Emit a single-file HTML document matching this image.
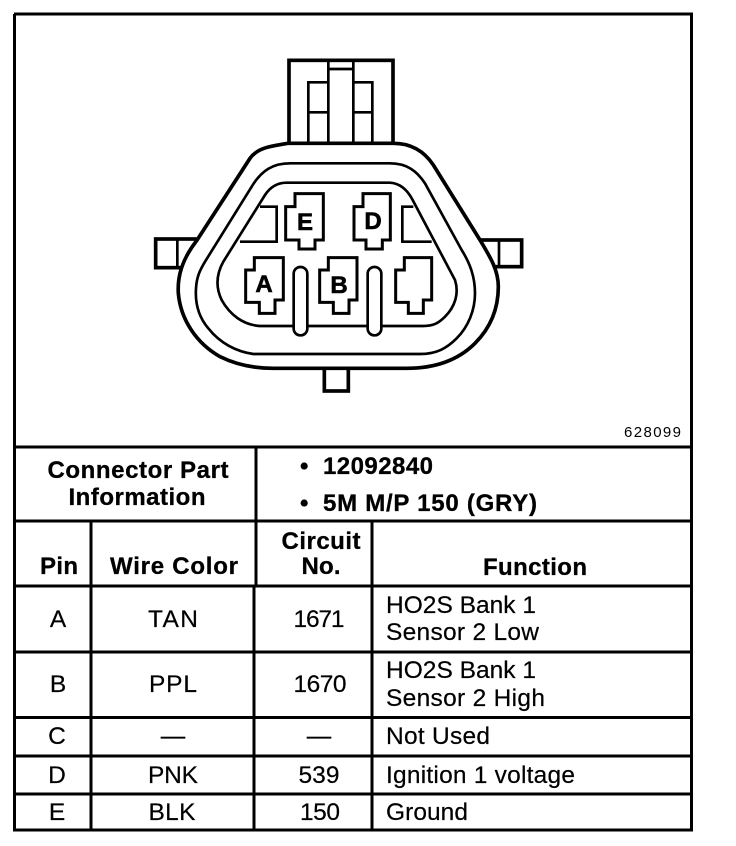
<!DOCTYPE html>
<html><head><meta charset="utf-8"><style>
html,body{margin:0;padding:0;background:#fff}
svg{display:block}
text{font-family:"Liberation Sans",sans-serif;fill:#000}
.b{font-weight:bold;font-size:24px;stroke:#000;stroke-width:.3px}
.r{font-size:24.5px;stroke:#000;stroke-width:.2px}
.m{text-anchor:middle}
</style></head><body>
<svg width="736" height="846" viewBox="0 0 736 846" xmlns="http://www.w3.org/2000/svg">
<rect width="736" height="846" fill="#fff"/>
<g transform="translate(140,50) scale(.33333)" fill="none" stroke="#000" stroke-linejoin="miter">
<g stroke-width="11" fill="#fff">
<rect x="47" y="567" width="125" height="86"/>
<rect x="1025" y="570" width="120" height="80"/>
<rect x="553" y="950" width="72" height="73"/>
<rect x="447" y="31" width="312" height="260"/>
</g>
<path d="M112 567V653M1077 570V650" stroke-width="8"/>
<path d="M443 280C400 288 355 290 330 325L170 572C125 630 112 680 115 730C122 810 170 880 240 920C290 945 340 955 400 955H800C880 955 950 935 1005 880C1055 830 1075 770 1075 710C1075 660 1050 620 1020 570L880 345C850 300 810 280 760 280Z" stroke-width="11" fill="#fff"/>
<path d="M505 280V97H562M565 280V30M640 30V280M697 280V97H640M508 187H562M643 187H697M565 57H640" stroke-width="8"/>
<path d="M450 340H750C800 340 830 362 855 400L965 600C990 640 1005 680 1005 730C1005 780 985 830 950 865C920 895 890 912 840 912H340C290 905 240 880 205 835C175 800 165 760 168 715C170 680 180 660 195 635L335 410C365 360 400 340 450 340Z" stroke-width="8"/>
<path d="M440 398H750C785 400 805 425 818 450L945 690C958 730 945 770 915 800C895 820 880 828 850 828H360C310 825 270 795 245 750C228 715 228 675 250 635L375 435C390 412 410 398 440 398Z" stroke-width="8"/>
<path d="M360 470H410V575H300M820 470H787V575H875" stroke-width="8"/>
<g fill="#fff" stroke-width="8">
<rect x="461" y="651" width="41" height="205" rx="20"/>
<rect x="683" y="651" width="41" height="205" rx="20"/>
</g>
<g stroke-width="9" fill="#fff">
<path d="M465 431H550V570H525V597H477V570H437V470H465Z"/>
<path d="M669 431H751V570H727V597H678V570H642V470H669Z"/>
<path d="M343 623H430V750H405V790H358V757H317V660H343Z"/>
<path d="M565 623H651V750H627V790H580V757H539V660H565Z"/>
<path d="M793 623H875V750H850V790H805V757H767V660H793Z"/>
</g>
</g>
<g font-weight="bold" font-size="24" text-anchor="middle">
<text x="305" y="230" style="stroke:#000;stroke-width:.6px">E</text>
<text x="373" y="229" style="stroke:#000;stroke-width:.6px">D</text>
<text x="264" y="292" style="stroke:#000;stroke-width:.6px">A</text>
<text x="339" y="293" style="stroke:#000;stroke-width:.6px">B</text>
</g>
<g stroke="#000" fill="none" stroke-width="3">
<path d="M14 14H693M14.5 14V830M691.5 14V830M13 830H693" stroke-width="3"/>
<path d="M13 447H693M13 521H693M13 586H693M13 652H693M13 717.500H693M13 756H693M13 794H693"/>
<path d="M256 447V586M91 521V830M254 586V830M372 521V830"/>
</g>
<text x="624" y="437" font-size="15" textLength="57">628099</text>
<text class="b m" x="138" y="478" textLength="181">Connector Part</text>
<text class="b m" x="137" y="505" textLength="137">Information</text>
<text class="b" x="300" y="474">•</text>
<text class="b" x="323" y="474" textLength="110">12092840</text>
<text class="b" x="300" y="511">•</text>
<text class="b" x="323" y="511" textLength="214">5M M/P 150 (GRY)</text>
<text class="b m" x="59" y="574" textLength="38">Pin</text>
<text class="b m" x="174" y="574" textLength="128">Wire Color</text>
<text class="b m" x="321" y="549" textLength="79">Circuit</text>
<text class="b m" x="321" y="574" textLength="39">No.</text>
<text class="b m" x="535" y="575" textLength="104">Function</text>
<g class="r">
<text class="r m" x="58" y="627">A</text>
<text class="r m" x="173" y="627" textLength="50">TAN</text>
<text class="r m" x="319" y="627" textLength="51">1671</text>
<text class="r" x="386" y="613" textLength="150">HO2S Bank 1</text>
<text class="r" x="386" y="640" textLength="153">Sensor 2 Low</text>
<text class="r m" x="58" y="692">B</text>
<text class="r m" x="173" y="692" textLength="48">PPL</text>
<text class="r m" x="320" y="692" textLength="53">1670</text>
<text class="r" x="386" y="678" textLength="150">HO2S Bank 1</text>
<text class="r" x="386" y="706" textLength="159">Sensor 2 High</text>
<text class="r m" x="57" y="744">C</text>
<text class="r m" x="173" y="744" textLength="26">—</text>
<text class="r m" x="319" y="744" textLength="26">—</text>
<text class="r" x="386" y="744" textLength="104">Not Used</text>
<text class="r m" x="57" y="783">D</text>
<text class="r m" x="173" y="783" textLength="50">PNK</text>
<text class="r m" x="319" y="783" textLength="41">539</text>
<text class="r" x="386" y="783" textLength="189">Ignition 1 voltage</text>
<text class="r m" x="57" y="820">E</text>
<text class="r m" x="172" y="820" textLength="47">BLK</text>
<text class="r m" x="320" y="820" textLength="40">150</text>
<text class="r" x="386" y="820" textLength="82">Ground</text>
</g>
</svg>
</body></html>
